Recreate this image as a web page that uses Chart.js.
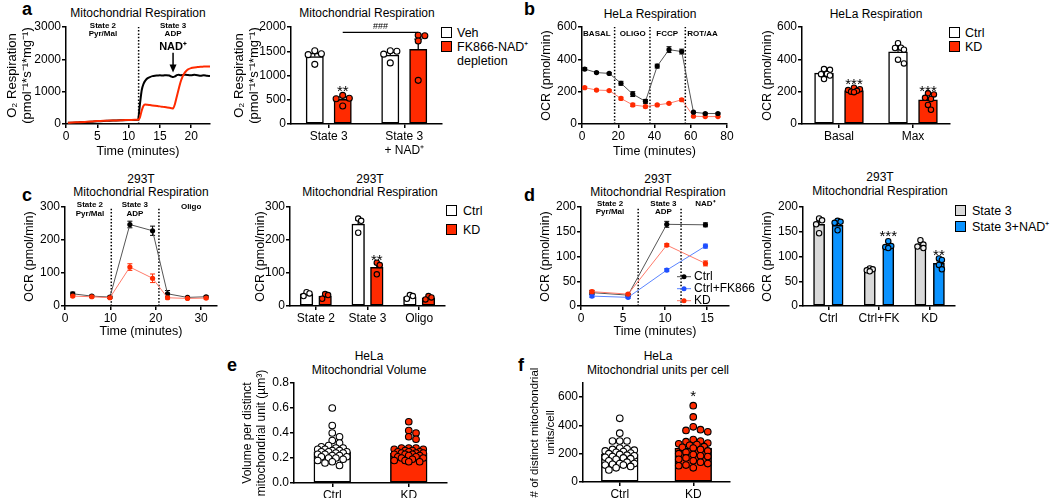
<!DOCTYPE html>
<html>
<head>
<meta charset="utf-8">
<script src="https://cdn.jsdelivr.net/npm/chart.js@4.4.1/dist/chart.umd.min.js"></script>
<style>
body { margin: 0; background: #fff; width: 1050px; height: 498px; position: relative; overflow: hidden; font-family: "Liberation Sans", Arial, sans-serif; color: #000; }
canvas { position: absolute; }
.t { position: absolute; font-size: 12px; line-height: 14px; text-align: center; white-space: nowrap; transform: translateX(-50%); }
.lt { position: absolute; font-weight: bold; font-size: 18px; line-height: 18px; }
.bx { position: absolute; width: 9px; height: 9px; border: 1.5px solid #000; }
.tx { position: absolute; font-size: 12.5px; line-height: 14px; white-space: nowrap; }
</style>
</head>
<body>
<div class="lt" style="left:22px;top:0px">a</div>
<div class="lt" style="left:524px;top:0px">b</div>
<div class="lt" style="left:22px;top:186px">c</div>
<div class="lt" style="left:524px;top:186px">d</div>
<div class="lt" style="left:227px;top:356px">e</div>
<div class="lt" style="left:518px;top:356px">f</div>

<div class="t" style="left:138px;top:6px">Mitochondrial Respiration</div>
<div class="t" style="left:367px;top:6px">Mitochondrial Respiration</div>
<div class="t" style="left:650px;top:7px">HeLa Respiration</div>
<div class="t" style="left:876px;top:7px">HeLa Respiration</div>
<div class="t" style="left:141px;top:173px;line-height:13px">293T<br>Mitochondrial Respiration</div>
<div class="t" style="left:370px;top:173px;line-height:13px">293T<br>Mitochondrial Respiration</div>
<div class="t" style="left:658px;top:173px;line-height:13px">293T<br>Mitochondrial Respiration</div>
<div class="t" style="left:880px;top:171px;line-height:13.5px">293T<br>Mitochondrial Respiration</div>
<div class="t" style="left:369px;top:349px">HeLa<br>Mitochondrial Volume</div>
<div class="t" style="left:658px;top:349px">HeLa<br>Mitochondrial units per cell</div>

<div class="bx" style="left:441px;top:27px;background:#fff"></div>
<div class="bx" style="left:441px;top:41px;background:#ff2a00"></div>
<div class="tx" style="left:457px;top:26px">Veh</div>
<div class="tx" style="left:457px;top:40px">FK866-NAD⁺<br>depletion</div>

<div class="bx" style="left:949px;top:27px;background:#fff"></div>
<div class="bx" style="left:949px;top:41px;background:#ff2a00"></div>
<div class="tx" style="left:965px;top:26px">Ctrl</div>
<div class="tx" style="left:965px;top:40px">KD</div>

<div class="bx" style="left:446px;top:205px;background:#fff"></div>
<div class="bx" style="left:446px;top:224px;background:#ff2a00"></div>
<div class="tx" style="left:463px;top:204px">Ctrl</div>
<div class="tx" style="left:463px;top:223px">KD</div>

<div class="bx" style="left:955px;top:205px;background:#d9d9d9"></div>
<div class="bx" style="left:955px;top:221px;background:#0a93ff"></div>
<div class="tx" style="left:972px;top:204px">State 3</div>
<div class="tx" style="left:972px;top:220px">State 3+NAD⁺</div>

<script>
// ---- panel a, trace ----
const aTime = [0.3, 1, 2, 3, 4, 5, 6, 7, 8, 9, 10, 11, 11.5, 11.8, 12.1, 12.4, 12.7, 13, 13.4, 13.8, 14.2, 14.6, 15, 15.5, 16, 16.5, 16.8, 17.1, 17.4, 17.7, 18, 18.3, 18.6, 18.9, 19.2, 19.5, 20, 20.5, 21, 21.5, 22, 22.5, 23];
const aVehTrace = [35, 40, 50, 60, 70, 85, 95, 100, 110, 115, 120, 125, 130, 600, 1050, 1250, 1350, 1410, 1450, 1480, 1495, 1500, 1505, 1500, 1510, 1500, 1470, 1450, 1470, 1510, 1520, 1510, 1515, 1525, 1520, 1515, 1505, 1520, 1510, 1490, 1505, 1490, 1485];
const aFkTrace = [40, 45, 55, 65, 75, 90, 100, 105, 112, 118, 122, 128, 132, 200, 420, 570, 600, 595, 585, 575, 565, 555, 545, 530, 515, 500, 490, 480, 620, 850, 1080, 1300, 1460, 1570, 1640, 1690, 1730, 1750, 1760, 1770, 1775, 1780, 1780];
const aSteps = [11.6];
const aNadAdded = 17.1;

// ---- panel a, bars ----
const aCats = ['State 3', ['State 3', '+ NAD⁺']];
const aVehMean = [1390, 1420];
const aVehSem = [60, 55];
const aVehPts = [[1510, 1450, 1430, 1230], [1510, 1500, 1440, 1260]];
const aFkMean = [510, 1540];
const aFkSem = [50, 210];
const aFkPts = [[590, 530, 520, 370], [1830, 1820, 1710, 900]];

// ---- panel b, trace ----
const bTime = [1.5, 8, 15, 21.5, 28, 35, 41.5, 48, 55, 61.5, 68, 75];
const bCtrl = [340, 318, 313, 252, 185, 140, 358, 460, 448, 73, 65, 65];
const bCtrlSem = [8, 6, 5, 12, 15, 12, 12, 18, 15, 5, 4, 4];
const bKd = [225, 210, 207, 158, 118, 108, 118, 128, 150, 48, 46, 46];
const bKdSem = [6, 5, 5, 8, 10, 8, 5, 5, 8, 4, 3, 3];
const bSteps = [18, 37.5, 57];

// ---- panel b, bars ----
const bCats = ['Basal', 'Max'];
const bCtrlMean = [315, 447];
const bCtrlBarSem = [10, 20];
const bCtrlPts = [[340, 335, 310, 308, 300, 278], [500, 472, 470, 460, 398, 375]];
const bKdMean = [207, 150];
const bKdBarSem = [5, 15];
const bKdPts = [[225, 215, 210, 205, 200, 197], [190, 183, 162, 155, 118, 88]];

// ---- panel c, trace ----
const cTime = [1.7, 5.9, 9.9, 14.3, 19.3, 22.6, 27.0, 31.1];
const cCtrl = [37, 30, 27, 247, 228, 37, 26, 28];
const cCtrlSem = [5, 3, 3, 10, 14, 10, 3, 3];
const cKd = [30, 28, 25, 118, 84, 25, 23, 24];
const cKdSem = [3, 3, 2, 10, 13, 4, 3, 3];
const cSteps = [10.2, 20.7];

// ---- panel c, bars ----
const cCats = ['State 2', 'State 3', 'Oligo'];
const cCtrlMean = [37, 248, 28];
const cCtrlBarSem = [3, 12, 3];
const cCtrlPts = [[42, 38, 30], [265, 258, 222], [33, 30, 22]];
const cKdMean = [30, 117, 25];
const cKdBarSem = [3, 11, 2];
const cKdPts = [[36, 33, 22], [131, 124, 96], [30, 26, 20]];

// ---- panel d, trace ----
const dTime = [1.3, 5.6, 10.2, 14.8];
const dCtrl = [27, 22, 165, 164];
const dCtrlSem = [4, 3, 6, 4];
const dFk = [20, 17.5, 72.5, 121];
const dFkSem = [3, 2, 3, 4];
const dKd = [29, 24, 123, 86];
const dKdSem = [3, 2, 3, 5];
const dSteps = [6.8, 11.9];

// ---- panel d, bars ----
const dCats = ['Ctrl', 'Ctrl+FK', 'KD'];
const dS3Mean = [165, 72, 122];
const dS3Sem = [7, 2, 3];
const dS3Pts = [[177, 173, 165, 147], [76, 74, 72, 70], [133, 124, 120, 117]];
const dNadMean = [163, 120, 86];
const dNadSem = [5, 3, 5];
const dNadPts = [[172, 170, 168, 153], [131, 121, 119, 117], [96, 93, 83, 74]];

// ---- panel e ----
const eCats = ['Ctrl', 'KD'];
const eMean = [0.25, 0.24];
const eSem = [0.015, 0.012];
const eCtrlPts = [0.60, 0.46, 0.40, 0.37, 0.34, 0.32, 0.30, 0.29, 0.28, 0.28, 0.27, 0.27, 0.26, 0.26, 0.25, 0.25, 0.25, 0.24, 0.24, 0.23, 0.23, 0.22, 0.22, 0.21, 0.21, 0.20, 0.20, 0.19, 0.18, 0.17, 0.16, 0.14];
const eKdPts = [0.49, 0.42, 0.40, 0.37, 0.35, 0.28, 0.28, 0.28, 0.27, 0.27, 0.26, 0.26, 0.25, 0.25, 0.25, 0.24, 0.24, 0.24, 0.23, 0.23, 0.23, 0.22, 0.22, 0.21, 0.21, 0.20, 0.20, 0.19, 0.18, 0.18, 0.17, 0.17];

// ---- panel f ----
const fCats = ['Ctrl', 'KD'];
const fMean = [200, 240];
const fSem = [15, 20];
const fCtrlPts = [450, 345, 290, 290, 290, 240, 235, 230, 225, 220, 215, 210, 205, 200, 195, 190, 185, 180, 175, 170, 165, 160, 150, 140, 130, 130, 125, 120, 120, 110, 100, 85];
const fKdPts = [540, 460, 390, 370, 365, 355, 300, 290, 285, 275, 270, 265, 260, 250, 245, 240, 230, 220, 210, 200, 195, 185, 180, 170, 160, 150, 140, 130, 120, 115, 100];

const RED = '#ff2a00', BLUE = '#0a93ff', GRAY = '#d9d9d9';
const FONT = "'Liberation Sans', Arial, sans-serif";
Chart.defaults.font.family = FONT;
Chart.defaults.color = '#000';
Chart.defaults.animation = false;
Chart.defaults.events = [];

// plot boxes (page pixels) and y-title placement
const BOX = {
    a1: { x0: 66, x1: 210, y0: 27, y1: 124, L: 0, hx: 35 },
    a2: { x0: 291, x1: 442, y0: 27, y1: 124, L: 227, hx: 40 },
    b1: { x0: 582, x1: 727, y0: 27, y1: 124, L: 535, hx: 35 },
    b2: { x0: 802, x1: 950, y0: 27, y1: 124, L: 756, hx: 30 },
    c1: { x0: 65, x1: 217, y0: 207, y1: 306, L: 18, hx: 33 },
    c2: { x0: 290, x1: 445, y0: 207, y1: 306, L: 249, hx: 30 },
    d1: { x0: 581, x1: 729, y0: 207, y1: 306, L: 534, hx: 33, pr: 34 },
    d2: { x0: 803, x1: 955, y0: 207, y1: 306, L: 756, hx: 30 },
    e: { x0: 294, x1: 447, y0: 383, y1: 483, L: 236, hx: 15, pt: 30 },
    f: { x0: 583, x1: 730, y0: 383, y1: 482, L: 523, hx: 16, pt: 30 }
};

function axisBase() {
    return {
        border: { color: '#000', width: 1.5 },
        grid: { drawOnChartArea: false, color: '#000', lineWidth: 1.5, tickLength: 4 },
        ticks: { font: { size: 12 }, color: '#000', padding: 1, maxRotation: 0, autoSkip: false }
    };
}

function yAxis(box, o) {
    const s = axisBase();
    s.type = 'linear'; s.min = 0; s.max = o.max;
    s.ticks.stepSize = o.step; s.ticks.includeBounds = false;
    s.ticks.callback = o.fmt || (v => v);
    s.title = { display: true, text: o.title, color: '#000', font: { size: o.tsize || 12.5, lineHeight: o.tlh || 1.2 }, padding: { top: o.tpad || 4.5, bottom: 0 } };
    s.afterFit = sc => { sc.width = box.x0 - box.L; };
    return s;
}

function xLinear(box, o) {
    const s = axisBase();
    s.type = 'linear'; s.min = 0; s.max = o.max;
    s.ticks.stepSize = o.step; s.ticks.includeBounds = false;
    if (o.title) s.title = { display: true, text: o.title, color: '#000', font: { size: 12.5 }, padding: { top: 0, bottom: 0 } };
    s.afterFit = sc => { sc.height = box.hx; };
    return s;
}

function xCategory(box) {
    const s = axisBase();
    s.type = 'category'; s.offset = true; s.grid.offset = false;
    s.afterFit = sc => { sc.height = box.hx; };
    return s;
}

// hidden numeric axis lined up with the category bands
function xHidden(n) {
    return {
        type: 'linear', display: false, offset: false, min: -0.5, max: n - 0.5,
        afterBuildTicks: sc => { sc.ticks = [{ value: -0.5 }, { value: n - 0.5 }]; }
    };
}

// spread dots sideways so they do not overlap (pixel offsets)
function swarm(vals, r, pxY, half) {
    const placed = [], out = [];
    const idx = vals.map((v, i) => i).sort((a, b) => vals[b] - vals[a]);
    const step = r * 1.1, d2 = (2 * r * 0.92) ** 2;
    idx.forEach(i => {
        const py = vals[i] * pxY;
        let best = 0, bestD = -1;
        for (let k = 0; k < 40; k++) {
            const off = (k % 2 ? 1 : -1) * Math.ceil(k / 2) * step;
            if (Math.abs(off) > half) continue;
            let dmin = Infinity;
            placed.forEach(p => { dmin = Math.min(dmin, (p.x - off) ** 2 + (p.y - py) ** 2); });
            if (dmin >= d2) { best = off; break; }
            if (dmin > bestD) { bestD = dmin; best = off; }
        }
        placed.push({ x: best, y: py });
        out[i] = best;
    });
    return out;
}

function deco(cfg) {
    return {
        id: 'deco',
        beforeDatasetsDraw(chart) {
            const { ctx, chartArea: ca, scales } = chart;
            ctx.save();
            ctx.strokeStyle = '#000'; ctx.lineWidth = 1.5; ctx.setLineDash([1.5, 1.8]);
            (cfg.vlines || []).forEach(v => {
                const x = scales.x.getPixelForValue(v);
                ctx.beginPath(); ctx.moveTo(x, ca.bottom); ctx.lineTo(x, ca.top); ctx.stroke();
            });
            ctx.setLineDash([]);
            chart.data.datasets.forEach((ds, i) => {
                if (!ds.sem) return;
                const meta = chart.getDatasetMeta(i), ys = scales[meta.yAxisID];
                ctx.strokeStyle = ds.errColor || '#000'; ctx.lineWidth = ds.errWidth || 1.2;
                meta.data.forEach((el, k) => {
                    const raw = ds.data[k], v = typeof raw === 'object' ? raw.y : raw;
                    const e = ds.sem[k], c = ds.cap / 2;
                    const top = ys.getPixelForValue(v + e);
                    const bot = ds.upOnly ? ys.getPixelForValue(v) : ys.getPixelForValue(v - e);
                    ctx.beginPath();
                    ctx.moveTo(el.x, bot); ctx.lineTo(el.x, top);
                    ctx.moveTo(el.x - c, top); ctx.lineTo(el.x + c, top);
                    if (!ds.upOnly) { ctx.moveTo(el.x - c, bot); ctx.lineTo(el.x + c, bot); }
                    ctx.stroke();
                });
            });
            ctx.restore();
        },
        afterDatasetsDraw(chart) {
            const { ctx, chartArea: ca, scales } = chart;
            ctx.save();
            ctx.fillStyle = '#000'; ctx.strokeStyle = '#000';
            (cfg.texts || []).forEach(t => {
                const px = scales[t.ax || 'x'].getPixelForValue(t.x);
                const py = scales.y.getPixelForValue(t.y);
                ctx.font = t.font + ' ' + FONT;
                ctx.textAlign = 'center';
                if (t.star) {
                    ctx.textBaseline = 'alphabetic';
                    ctx.fillText(t.lines[0], px, py + t.size * 0.57);
                } else {
                    ctx.textBaseline = 'middle';
                    t.lines.forEach((s, j) => ctx.fillText(s, px, py + j * (t.lh || 8)));
                }
            });
            if (cfg.arrow) {
                const a = cfg.arrow, x = scales.x.getPixelForValue(a.x);
                const y1 = scales.y.getPixelForValue(a.from), y2 = scales.y.getPixelForValue(a.to);
                ctx.lineWidth = 1.5;
                ctx.beginPath(); ctx.moveTo(x, y1); ctx.lineTo(x, y2 - 6); ctx.stroke();
                ctx.beginPath(); ctx.moveTo(x - 3.5, y2 - 8); ctx.lineTo(x + 3.5, y2 - 8); ctx.lineTo(x, y2); ctx.closePath(); ctx.fill();
            }
            if (cfg.bracket) {
                const b = cfg.bracket, xs = scales.xd;
                const x1 = xs.getPixelForValue(b.from), x2 = xs.getPixelForValue(b.to), y = scales.y.getPixelForValue(b.y);
                ctx.lineWidth = 1.2;
                ctx.beginPath(); ctx.moveTo(x1, y); ctx.lineTo(x2, y); ctx.stroke();
                ctx.font = '9px ' + FONT; ctx.textAlign = 'center'; ctx.textBaseline = 'bottom';
                ctx.fillText(b.text, (x1 + x2) / 2, y - 1);
            }
            if (cfg.legend) {
                const g = cfg.legend;
                ctx.font = '12px ' + FONT; ctx.textAlign = 'left'; ctx.textBaseline = 'middle';
                g.items.forEach((it, j) => {
                    const x = ca.left + g.dx, y = ca.top + g.dy + j * g.gap;
                    ctx.strokeStyle = it.line; ctx.lineWidth = 1;
                    ctx.beginPath(); ctx.moveTo(x - 7, y); ctx.lineTo(x + 7, y); ctx.stroke();
                    ctx.fillStyle = it.color;
                    ctx.beginPath(); ctx.arc(x, y, 2.5, 0, Math.PI * 2); ctx.fill();
                    ctx.fillStyle = '#000';
                    ctx.fillText(it.label, x + 10, y);
                });
            }
            ctx.restore();
        }
    };
}

function mount(box, cfg, extra) {
    const padT = box.pt || 10, padR = box.pr || 16;
    const c = document.createElement('canvas');
    const w = box.x1 - box.L + padR, h = box.y1 - box.y0 + padT + box.hx;
    c.width = w; c.height = h;
    c.style.left = box.L + 'px'; c.style.top = (box.y0 - padT) + 'px';
    c.style.width = w + 'px'; c.style.height = h + 'px';
    document.body.appendChild(c);
    cfg.options.responsive = false;
    cfg.options.maintainAspectRatio = false;
    cfg.options.layout = { padding: { left: 0, top: padT, right: padR, bottom: 0 } };
    cfg.options.plugins = { legend: { display: false }, tooltip: { enabled: false } };
    cfg.plugins = [deco(extra || {})];
    new Chart(c, cfg);
}

function lineSeries(xs, ys, o) {
    return {
        data: xs.map((t, i) => ({ x: t, y: ys[i] })),
        borderColor: o.line, borderWidth: o.width || 1,
        pointRadius: o.r === undefined ? 2.6 : o.r,
        pointBackgroundColor: o.color, pointBorderColor: o.color, pointBorderWidth: 0,
        cubicInterpolationMode: o.smooth ? 'monotone' : 'default',
        tension: 0, clip: false,
        sem: o.sem, errColor: o.color, cap: 5, errWidth: 1
    };
}

function linePanel(box, o, extra) {
    mount(box, {
        type: 'line',
        data: { datasets: o.series },
        options: {
            scales: {
                x: xLinear(box, o.x),
                y: yAxis(box, o.y)
            }
        }
    }, extra);
}

function barPanel(box, o, extra) {
    const n = o.cats.length, m = o.groups.length;
    const pxX = (box.x1 - box.x0) / n, pxY = (box.y1 - box.y0) / o.y.max;
    const slot = o.cp / m, barW = slot * o.bp * pxX, half = barW / 2;
    const datasets = [];
    o.groups.forEach((g, j) => {
        const off = (j - (m - 1) / 2) * slot;
        datasets.push({
            type: 'bar', xAxisID: 'xd', grouped: false,
            data: g.mean.map((v, i) => ({ x: i + off, y: v })),
            backgroundColor: g.fill, borderColor: '#000', borderWidth: 1.5, borderSkipped: false,
            barPercentage: 1, categoryPercentage: 1, maxBarThickness: barW,
            sem: g.sem, upOnly: true, cap: Math.min(9, half * 0.9), errWidth: 1.3, order: 2
        });
    });
    o.groups.forEach((g, j) => {
        const off = (j - (m - 1) / 2) * slot;
        const pts = [], cols = [];
        g.pts.forEach((vals, i) => {
            const sx = swarm(vals, o.r, pxY, half - o.r * 0.4);
            vals.forEach((v, k) => {
                pts.push({ x: i + off + sx[k] / pxX, y: v });
                cols.push(Array.isArray(g.dot) ? g.dot[i] : g.dot);
            });
        });
        datasets.push({
            type: 'scatter', xAxisID: 'xs', data: pts, pointRadius: o.r,
            pointBackgroundColor: cols, pointBorderColor: '#000', pointBorderWidth: 1.1,
            showLine: false, clip: false, order: 0
        });
    });
    extra = extra || {};
    extra.texts = (o.stars || []).map(s => ({
        ax: 'xd', x: s.cat + (s.group - (m - 1) / 2) * slot, y: s.y,
        lines: [s.text], font: '15px', size: 15, star: true
    }));
    if (o.bracket) {
        extra.bracket = {
            from: o.bracket.cats[0] + (o.bracket.group - (m - 1) / 2) * slot,
            to: o.bracket.cats[1] + (o.bracket.group - (m - 1) / 2) * slot,
            y: o.bracket.y, text: o.bracket.text
        };
    }
    mount(box, {
        type: 'bar',
        data: { labels: o.cats, datasets: datasets },
        options: {
            scales: {
                x: xCategory(box),
                xd: xHidden(n),
                xs: xHidden(n),
                y: yAxis(box, o.y)
            }
        }
    }, extra);
}

const O2_TITLE = ['O₂ Respiration', '(pmol⁻¹*s⁻¹*mg⁻¹)'];
const OCR_TITLE = 'OCR (pmol/min)';

// a, trace
linePanel(BOX.a1, {
    x: { max: 23, step: 5, title: 'Time (minutes)' },
    y: { max: 3000, step: 1000, title: O2_TITLE, tsize: 13, tpad: 4.2 },
    series: [
        lineSeries(aTime, aFkTrace, { line: RED, color: RED, width: 2, r: 0, smooth: true }),
        lineSeries(aTime, aVehTrace, { line: '#000', color: '#000', width: 2, r: 0, smooth: true })
    ]
}, {
    vlines: aSteps,
    texts: [
        { x: 5.9, y: 3030, lines: ['State 2', 'Pyr/Mal'], font: 'bold 8px', lh: 7.8 },
        { x: 17.1, y: 3030, lines: ['State 3', 'ADP'], font: 'bold 8px', lh: 7.8 },
        { x: aNadAdded, y: 2390, lines: ['NAD⁺'], font: 'bold 11px' }
    ],
    arrow: { x: aNadAdded, from: 2200, to: 1590 }
});

// a, bars
barPanel(BOX.a2, {
    cats: aCats, cp: 0.74, bp: 0.62, r: 3,
    y: { max: 2000, step: 500, title: O2_TITLE, tsize: 13, tpad: 4.2 },
    groups: [
        { mean: aVehMean, sem: aVehSem, pts: aVehPts, fill: '#fff', dot: '#fff' },
        { mean: aFkMean, sem: aFkSem, pts: aFkPts, fill: RED, dot: RED }
    ],
    stars: [{ cat: 0, group: 1, y: 750, text: '**' }],
    bracket: { cats: [0, 1], group: 1, y: 1890, text: '###' }
});

// b, trace
linePanel(BOX.b1, {
    x: { max: 80, step: 20, title: 'Time (minutes)' },
    y: { max: 600, step: 200, title: OCR_TITLE },
    series: [
        lineSeries(bTime, bCtrl, { line: '#555', color: '#000', sem: bCtrlSem }),
        lineSeries(bTime, bKd, { line: '#ff7b6b', color: RED, sem: bKdSem })
    ]
}, {
    vlines: bSteps,
    texts: [
        { x: 8.2, y: 561, lines: ['BASAL'], font: 'bold 8px' },
        { x: 28, y: 561, lines: ['OLIGO'], font: 'bold 8px' },
        { x: 47, y: 561, lines: ['FCCP'], font: 'bold 8px' },
        { x: 66.5, y: 561, lines: ['ROT/AA'], font: 'bold 8px' }
    ]
});

// b, bars
barPanel(BOX.b2, {
    cats: bCats, cp: 0.81, bp: 0.63, r: 2.7,
    y: { max: 600, step: 200, title: OCR_TITLE },
    groups: [
        { mean: bCtrlMean, sem: bCtrlBarSem, pts: bCtrlPts, fill: '#fff', dot: '#fff' },
        { mean: bKdMean, sem: bKdBarSem, pts: bKdPts, fill: RED, dot: RED }
    ],
    stars: [{ cat: 0, group: 1, y: 272, text: '***' }, { cat: 1, group: 1, y: 225, text: '***' }]
});

// c, trace
linePanel(BOX.c1, {
    x: { max: 33.5, step: 10, title: 'Time (minutes)' },
    y: { max: 300, step: 100, title: OCR_TITLE },
    series: [
        lineSeries(cTime, cKd, { line: '#ff7b6b', color: RED, sem: cKdSem }),
        lineSeries(cTime, cCtrl, { line: '#555', color: '#000', sem: cCtrlSem })
    ]
}, {
    vlines: cSteps,
    texts: [
        { x: 5.5, y: 306, lines: ['State 2', 'Pyr/Mal'], font: 'bold 8px', lh: 8.5 },
        { x: 15.4, y: 306, lines: ['State 3', 'ADP'], font: 'bold 8px', lh: 8.5 },
        { x: 27.8, y: 300, lines: ['Oligo'], font: 'bold 8px' }
    ]
});

// c, bars
barPanel(BOX.c2, {
    cats: cCats, cp: 0.72, bp: 0.68, r: 2.7,
    y: { max: 300, step: 100, title: OCR_TITLE },
    groups: [
        { mean: cCtrlMean, sem: cCtrlBarSem, pts: cCtrlPts, fill: '#fff', dot: '#fff' },
        { mean: cKdMean, sem: cKdBarSem, pts: cKdPts, fill: RED, dot: RED }
    ],
    stars: [{ cat: 1, group: 1, y: 151, text: '**' }]
});

// d, trace
linePanel(BOX.d1, {
    x: { max: 17.6, step: 5, title: 'Time (minutes)' },
    y: { max: 200, step: 50, title: OCR_TITLE },
    series: [
        lineSeries(dTime, dKd, { line: '#ff7b6b', color: RED, sem: dKdSem }),
        lineSeries(dTime, dFk, { line: '#5a84ff', color: '#1f4fff', sem: dFkSem }),
        lineSeries(dTime, dCtrl, { line: '#555', color: '#000', sem: dCtrlSem })
    ]
}, {
    vlines: dSteps,
    texts: [
        { x: 3.45, y: 207, lines: ['State 2', 'Pyr/Mal'], font: 'bold 8px', lh: 8 },
        { x: 9.8, y: 207, lines: ['State 3', 'ADP'], font: 'bold 8px', lh: 8 },
        { x: 14.8, y: 206, lines: ['NAD⁺'], font: 'bold 8px' }
    ],
    legend: {
        dx: 103, dy: 69.7, gap: 12,
        items: [
            { label: 'Ctrl', color: '#000', line: '#555' },
            { label: 'Ctrl+FK866', color: '#1f4fff', line: '#5a84ff' },
            { label: 'KD', color: RED, line: '#ff7b6b' }
        ]
    }
});

// d, bars
barPanel(BOX.d2, {
    cats: dCats, cp: 0.73, bp: 0.6, r: 2.7,
    y: { max: 200, step: 50, title: OCR_TITLE },
    groups: [
        { mean: dS3Mean, sem: dS3Sem, pts: dS3Pts, fill: GRAY, dot: '#eeeeee' },
        { mean: dNadMean, sem: dNadSem, pts: dNadPts, fill: BLUE, dot: BLUE }
    ],
    stars: [{ cat: 1, group: 1, y: 149, text: '***' }, { cat: 2, group: 1, y: 110, text: '**' }]
});

// e
barPanel(BOX.e, {
    cats: eCats, cp: 0.48, bp: 1, r: 3.3,
    y: { max: 0.8, step: 0.2, title: ['Volume per distinct', 'mitochondrial unit (µm³)'], tsize: 12, tpad: 4.3, fmt: v => v.toFixed(1) },
    groups: [
        { mean: eMean, sem: eSem, pts: [eCtrlPts, eKdPts], fill: ['#fff', RED], dot: ['#fff', RED] }
    ]
});

// f
barPanel(BOX.f, {
    cats: fCats, cp: 0.5, bp: 1, r: 3.3,
    y: { max: 700, step: 200, title: ['# of distinct mitochondrial', 'units/cell'], tsize: 11.5, tlh: 1.35, tpad: 4.2 },
    groups: [
        { mean: fMean, sem: fSem, pts: [fCtrlPts, fKdPts], fill: ['#fff', RED], dot: ['#fff', RED] }
    ],
    stars: [{ cat: 1, group: 0, y: 636, text: '*' }]
});
</script>
</body>
</html>
